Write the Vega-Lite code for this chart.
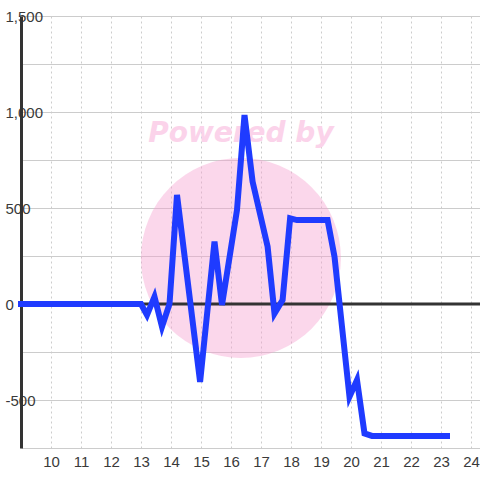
{
  "$schema": "https://vega.github.io/schema/vega-lite/v6.json",
  "width": 459,
  "height": 432,
  "autosize": {"type": "none"},
  "padding": {"left": 21, "top": 16, "right": 0, "bottom": 32},
  "background": "#ffffff",
  "config": {
    "view": {"stroke": null},
    "font": "Liberation Sans"
  },
  "datasets": {
    "series": [
      {"x": 8.9, "y": 0},
      {"x": 13.0, "y": 0},
      {"x": 13.2, "y": -57},
      {"x": 13.45, "y": 38},
      {"x": 13.7, "y": -118},
      {"x": 13.95, "y": 0},
      {"x": 14.2, "y": 568},
      {"x": 14.97, "y": -406},
      {"x": 15.45, "y": 325},
      {"x": 15.7, "y": -5},
      {"x": 16.2, "y": 490},
      {"x": 16.45, "y": 984},
      {"x": 16.72, "y": 637},
      {"x": 17.22, "y": 299},
      {"x": 17.45, "y": -49},
      {"x": 17.72, "y": 21},
      {"x": 17.97, "y": 446},
      {"x": 18.2, "y": 437},
      {"x": 19.22, "y": 437},
      {"x": 19.45, "y": 247},
      {"x": 19.95, "y": -483},
      {"x": 20.2, "y": -396},
      {"x": 20.45, "y": -674},
      {"x": 20.7, "y": -687},
      {"x": 23.3, "y": -687}
    ],
    "circle": [{"x": 16.33, "y": 240}],
    "caption": [{"x": 16.33, "y": 885, "label": "Powered by"}],
    "zero": [{"y": 0}]
  },
  "encoding": {
    "x": {"field": "x", "type": "quantitative", "scale": {"domain": [9, 24.3], "nice": false, "zero": false},
      "axis": {"values": [10,11,12,13,14,15,16,17,18,19,20,21,22,23,24], "grid": true, "gridColor": "#cccccc", "gridDash": [2, 3], "gridWidth": 1,
        "domain": false, "ticks": false, "labelPadding": 6, "labelFontSize": 15, "labelColor": "#3a3a3a", "labelFont": "Liberation Sans", "labelBound": false, "labelOverlap": false, "labelFlush": false, "title": null}},
    "y": {"field": "y", "type": "quantitative", "scale": {"domain": [-750, 1500], "nice": false, "zero": false},
      "axis": {"values": [-750,-500,-250,0,250,500,750,1000,1250,1500], "grid": true, "gridColor": "#cccccc", "gridWidth": 1,
        "domain": true, "domainColor": "#333333", "domainWidth": 3, "ticks": false,
        "labelAlign": "left", "labelBaseline": "middle", "labelPadding": 16, "labelFontSize": 15, "labelColor": "#3a3a3a", "labelFont": "Liberation Sans",
        "labelExpr": "datum.value % 500 === 0 ? replace(format(datum.value, ','), '\u2212', '-') : ''", "labelBound": false, "labelOverlap": false, "labelFlush": false, "title": null}}
  },
  "layer": [
    {
      "data": {"name": "circle"},
      "mark": {"type": "point", "shape": "circle", "filled": true, "fill": "#f5a0d0", "opacity": 0.42, "size": 40000, "strokeWidth": 0, "clip": false}
    },
    {
      "data": {"name": "caption"},
      "mark": {"type": "text", "font": "DejaVu Sans", "fontWeight": "bold", "fontStyle": "italic", "fontSize": 28, "color": "#fbd3ea", "align": "center", "baseline": "middle"},
      "encoding": {"text": {"field": "label"}}
    },
    {
      "data": {"name": "zero"},
      "mark": {"type": "rule", "color": "#333333", "strokeWidth": 3},
      "encoding": {"x": null}
    },
    {
      "data": {"name": "series"},
      "mark": {"type": "line", "color": "#1f3bff", "strokeWidth": 6, "strokeJoin": "miter", "strokeCap": "butt"}
    }
  ]
}
